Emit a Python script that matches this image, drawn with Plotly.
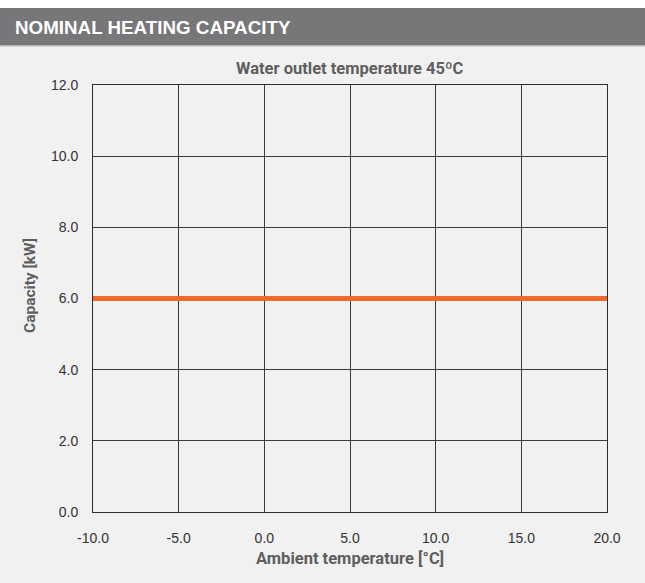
import plotly.graph_objects as go

ambient_temp = [-10, -7, 2, 7, 20]
capacity_kw = [6.0, 6.0, 6.0, 6.0, 6.0]
x_ticks = [-10, -5, 0, 5, 10, 15, 20]
x_tick_labels = ["-10.0", "-5.0", "0.0", "5.0", "10.0", "15.0", "20.0"]
y_ticks = [0, 2, 4, 6, 8, 10, 12]
y_tick_labels = ["0.0", "2.0", "4.0", "6.0", "8.0", "10.0", "12.0"]

W, H = 645, 583
L, R, T, B = 93, 38, 85, 71
pw, ph = W - L - R, H - T - B

def px(x):
    return (x - L) / pw

def py(y):
    return (H - B - y) / ph

fig = go.Figure()
fig.add_trace(go.Scatter(
    x=ambient_temp, y=capacity_kw, mode="lines",
    line=dict(color="#f26a2b", width=5), hoverinfo="skip", showlegend=False,
))

axis_common = dict(
    showgrid=True, gridcolor="#3c3c3c", gridwidth=1,
    showline=True, linecolor="#2e2e2e", linewidth=1, mirror=True,
    zeroline=False, ticks="",
    tickfont=dict(family="Liberation Sans, Arial, sans-serif", size=14, color="#333333"),
)

title_font = dict(family="Roboto, sans-serif", size=16.5, color="#5e5e5e")

fig.update_layout(
    width=W, height=H,
    margin=dict(l=L, r=R, t=T, b=B, autoexpand=False),
    paper_bgcolor="#f0f1f0", plot_bgcolor="#f0f1f0",
    xaxis=dict(range=[-10, 20], tickvals=x_ticks, ticktext=x_tick_labels,
               ticklabelstandoff=13, **axis_common),
    yaxis=dict(range=[0, 12], tickvals=y_ticks, ticktext=y_tick_labels,
               ticklabelstandoff=11, **axis_common),
    shapes=[
        dict(type="rect", xref="paper", yref="paper", x0=px(0), x1=px(W), y0=py(8), y1=py(0),
             fillcolor="#ffffff", line=dict(width=0), layer="below"),
        dict(type="rect", xref="paper", yref="paper", x0=px(0), x1=px(W), y0=py(45), y1=py(8),
             fillcolor="#77777a", line=dict(width=0), layer="below"),
        dict(type="rect", xref="paper", yref="paper", x0=px(0), x1=px(W), y0=py(46.5), y1=py(45),
             fillcolor="#b4b4b6", line=dict(width=0), layer="below"),
    ],
    annotations=[
        dict(text="<b>NOMINAL HEATING CAPACITY</b>", xref="paper", yref="paper",
             x=px(13), y=py(27), xanchor="left", yanchor="middle", showarrow=False,
             font=dict(family="Liberation Sans, Arial, sans-serif", size=18.8, color="#ffffff")),
        dict(text="<b>Water outlet temperature 45ºC</b>", xref="paper", yref="paper",
             x=0.5, y=py(69), xanchor="center", yanchor="middle", showarrow=False,
             font=title_font),
        dict(text="<b>Ambient temperature [°C]</b>", xref="paper", yref="paper",
             x=0.5, y=py(558), xanchor="center", yanchor="middle", showarrow=False,
             font=title_font),
        dict(text="<b>Capacity [kW]</b>", xref="paper", yref="paper",
             x=px(30), y=py(286), xanchor="center", yanchor="middle", showarrow=False,
             textangle=-90,
             font=dict(family="Roboto, sans-serif", size=15.5, color="#5e5e5e")),
    ],
)

fig.write_html("out.html", config={"displayModeBar": False},
               post_script="document.body.style.margin='0';document.body.style.overflow='hidden';")
